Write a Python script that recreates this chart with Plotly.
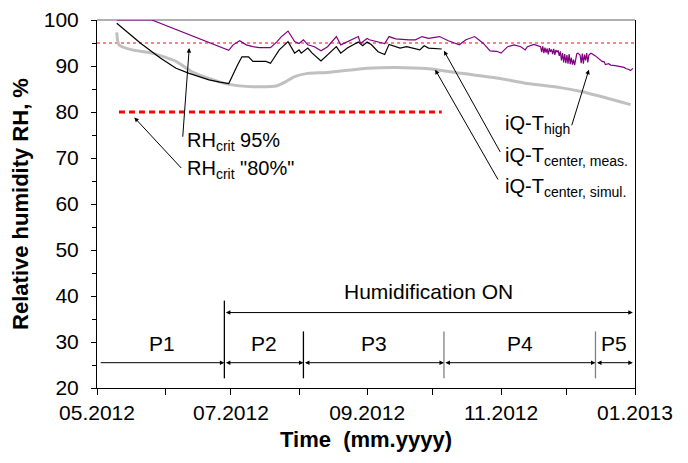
import plotly.graph_objects as go
import pandas as pd

# ---------------- data ----------------
high_dates = [
    "2012-05-10", "2012-05-26", "2012-06-30", "2012-07-02", "2012-07-05", "2012-07-08",
    "2012-07-11", "2012-07-14", "2012-07-19", "2012-07-22", "2012-07-24", "2012-07-27",
    "2012-07-30", "2012-08-01", "2012-08-03", "2012-08-05", "2012-08-08", "2012-08-11",
    "2012-08-14", "2012-08-18", "2012-08-20", "2012-08-23", "2012-08-28", "2012-08-29",
    "2012-09-01", "2012-09-02", "2012-09-06", "2012-09-09", "2012-09-11", "2012-09-14",
    "2012-09-20", "2012-09-23", "2012-09-26", "2012-09-29", "2012-10-04", "2012-10-08",
    "2012-10-13", "2012-10-16", "2012-10-20", "2012-10-24", "2012-10-27", "2012-10-30",
    "2012-11-01", "2012-11-04", "2012-11-07", "2012-11-10", "2012-11-12", "2012-11-13",
    "2012-11-16", "2012-11-19 00:00", "2012-11-19 12:00", "2012-11-20 00:00",
    "2012-11-20 12:00", "2012-11-21 00:00", "2012-11-21 12:00", "2012-11-22 00:00",
    "2012-11-22 12:00", "2012-11-23 00:00", "2012-11-23 12:00", "2012-11-24 00:00",
    "2012-11-24 12:00", "2012-11-25 00:00", "2012-11-25 12:00", "2012-11-26 00:00",
    "2012-11-26 12:00", "2012-11-27 00:00", "2012-11-27 12:00", "2012-11-28 00:00",
    "2012-11-28 12:00", "2012-11-29 00:00", "2012-11-29 12:00", "2012-11-30 00:00",
    "2012-11-30 12:00", "2012-12-01 00:00", "2012-12-01 12:00", "2012-12-02 00:00",
    "2012-12-02 12:00", "2012-12-03 00:00", "2012-12-03 12:00", "2012-12-04 00:00",
    "2012-12-04 12:00", "2012-12-05 00:00", "2012-12-05 12:00", "2012-12-06 00:00",
    "2012-12-06 12:00", "2012-12-07 00:00", "2012-12-07 12:00", "2012-12-08 00:00",
    "2012-12-08 12:00", "2012-12-09 00:00", "2012-12-09 12:00", "2012-12-10 00:00",
    "2012-12-10 12:00", "2012-12-11 00:00", "2012-12-11 12:00", "2012-12-12 00:00",
    "2012-12-14", "2012-12-16", "2012-12-17", "2012-12-18", "2012-12-18 12:00",
    "2012-12-20", "2012-12-21", "2012-12-23", "2012-12-25", "2012-12-27", "2012-12-28",
    "2012-12-29", "2012-12-30", "2012-12-31",
]
high_rh = [
    100.0, 100.0, 93.4, 94.6, 95.5, 94.6,
    94.2, 94.0, 94.0, 95.3, 96.4, 97.6,
    95.3, 94.9, 95.7, 94.6, 94.2, 93.3,
    94.2, 96.4, 94.6, 95.3, 96.4, 94.9,
    96.0, 95.7, 95.3, 94.9, 96.4, 95.9,
    95.7, 95.7, 96.4, 96.0, 96.4, 95.5,
    94.6, 95.7, 96.4, 94.9, 93.3, 93.2,
    92.8, 94.2, 94.6, 94.2, 93.5, 94.2,
    94.7, 94.2, 93.0, 94.3,
    92.8, 94.0, 92.9, 93.8,
    92.5, 93.9, 93.1, 93.6,
    92.6, 93.7, 92.4, 93.5,
    93.0, 93.4, 92.2, 93.2,
    91.2, 92.8, 90.8, 92.6,
    90.6, 92.4, 90.5, 92.6,
    90.4, 91.8, 90.3, 91.4,
    90.2, 91.6, 92.7, 92.8,
    92.6, 92.4, 90.6, 92.7,
    90.5, 92.5, 91.2, 92.8,
    90.8, 92.4, 92.6, 92.8,
    92.2, 91.4, 91.0, 90.9, 90.3,
    90.5, 90.2, 90.1, 89.9, 89.7, 89.4,
    89.3, 89.0, 89.5,
]

meas_dates = [
    "2012-05-10", "2012-05-21", "2012-05-30", "2012-06-06", "2012-06-12", "2012-06-21",
    "2012-06-26", "2012-06-30", "2012-07-04", "2012-07-06", "2012-07-09", "2012-07-11",
    "2012-07-17", "2012-07-19", "2012-07-20", "2012-07-23", "2012-07-27", "2012-07-30",
    "2012-08-01", "2012-08-02", "2012-08-05", "2012-08-07", "2012-08-11", "2012-08-14",
    "2012-08-18", "2012-08-20", "2012-08-23", "2012-08-28", "2012-08-30", "2012-09-01",
    "2012-09-03", "2012-09-06", "2012-09-09", "2012-09-11", "2012-09-14", "2012-09-16",
    "2012-09-19", "2012-09-22", "2012-09-25", "2012-09-27", "2012-09-29", "2012-10-05",
]
meas_rh = [
    99.3, 94.9, 91.7, 89.5, 88.4, 87.0,
    86.5, 86.2, 90.2, 92.0, 92.0, 91.0,
    91.0, 90.6, 91.3, 93.5, 95.3, 92.8,
    93.5, 92.8, 93.9, 92.8, 91.1, 92.4,
    94.2, 92.8, 93.9, 95.2, 94.4, 95.2,
    94.6, 93.1, 92.5, 94.7, 94.2, 93.9,
    94.2, 93.9, 93.5, 94.4, 93.9, 93.7,
]

simul_dates = [
    "2012-05-10", "2012-05-11", "2012-05-17", "2012-05-26", "2012-06-06", "2012-06-13",
    "2012-06-21", "2012-06-30", "2012-07-11", "2012-07-22", "2012-07-26", "2012-07-30",
    "2012-08-05", "2012-08-14", "2012-09-01", "2012-09-14", "2012-09-29", "2012-10-14",
    "2012-10-30", "2012-11-13", "2012-11-28", "2012-12-08", "2012-12-30",
]
simul_rh = [
    97.3, 94.6, 93.5, 92.8, 91.0, 88.8,
    87.3, 86.0, 85.5, 85.7, 86.6, 87.7,
    88.4, 88.6, 89.5, 89.7, 89.4, 88.4,
    87.4, 86.2, 85.3, 84.4, 81.6,
]

RH_CRIT_HIGH = 95
RH_CRIT_LOW = 80
crit_high_span = ["2012-05-01", "2013-01-01"]
crit_low_span = ["2012-05-11", "2012-10-05"]

period_bounds = ["2012-05-02", "2012-06-28", "2012-08-03", "2012-10-06", "2012-12-14", "2012-12-31"]
period_labels = ["P1", "P2", "P3", "P4", "P5"]
humid_span = ["2012-06-28", "2012-12-31"]
humid_label = "Humidification ON"

# ---------------- styles ----------------
FONT = "Arial, 'Liberation Sans', sans-serif"
C_HIGH = "#800080"
C_MEAS = "#000000"
C_SIM = "#c0c0c0"
bound_colors = ["#000000", "#000000", "#808080", "#808080"]
bound_tops = [39.0, 32.3, 32.3, 32.3]

fig = go.Figure()
fig.add_trace(go.Scatter(x=crit_high_span, y=[RH_CRIT_HIGH] * 2, mode="lines",
                         line=dict(color="#ff5a5a", width=1.3, dash="3px,3px")))
fig.add_trace(go.Scatter(x=crit_low_span, y=[RH_CRIT_LOW] * 2, mode="lines",
                         line=dict(color="#ff0000", width=3, dash="6px,4px")))
fig.add_trace(go.Scatter(x=simul_dates, y=simul_rh, mode="lines",
                         line=dict(color=C_SIM, width=3, shape="spline", smoothing=0.6)))
fig.add_trace(go.Scatter(x=meas_dates, y=meas_rh, mode="lines",
                         line=dict(color=C_MEAS, width=1.2)))
fig.add_trace(go.Scatter(x=high_dates, y=high_rh, mode="lines", cliponaxis=False,
                         line=dict(color=C_HIGH, width=1.2)))

shapes = []
for b, col, top in zip(period_bounds[1:-1], bound_colors, bound_tops):
    shapes.append(dict(type="line", xref="x", yref="y", x0=b, x1=b, y0=22.1, y1=top,
                       line=dict(color=col, width=1.3)))
shapes.append(dict(type="line", xref="paper", yref="paper", x0=0, x1=1, y0=1, y1=1,
                   line=dict(color="#606060", width=1), layer="below"))

ann = []
P_Y = 25.5
LABEL_Y = 29.6
b_dt = pd.to_datetime(period_bounds)
for i, lab in enumerate(period_labels):
    ann.append(dict(x=period_bounds[i + 1], y=P_Y, ax=period_bounds[i], ay=P_Y,
                    xref="x", yref="y", axref="x", ayref="y", text="", showarrow=True,
                    arrowhead=2, arrowsize=0.9, arrowwidth=1, arrowcolor="black",
                    arrowside="end" if i == 0 else "end+start", startarrowhead=2,
                    startarrowsize=0.9))
    mid = b_dt[i] + (b_dt[i + 1] - b_dt[i]) / 2
    ann.append(dict(x=mid.strftime("%Y-%m-%d %H:%M"), y=LABEL_Y, xref="x", yref="y",
                    text=lab, showarrow=False, font=dict(size=21, family=FONT, color="black")))

ann.append(dict(x=humid_span[1], y=36.4, ax=humid_span[0], ay=36.4, xref="x", yref="y",
                axref="x", ayref="y", text="", showarrow=True, arrowhead=2, arrowsize=0.9,
                arrowwidth=1, arrowcolor="black", arrowside="end+start", startarrowhead=2,
                startarrowsize=0.9))
ann.append(dict(x="2012-09-29", y=41.0, xref="x", yref="y", text=humid_label, showarrow=False,
                font=dict(size=21, family=FONT, color="black")))

TF = dict(size=20, family=FONT, color="black")
texts = [
    ("RH<sub>crit</sub> 95%", "2012-06-10", 73.6),
    ("RH<sub>crit</sub> \"80%\"", "2012-06-10", 67.5),
    ("iQ-T<sub>high</sub>", "2012-11-02", 77.3),
    ("iQ-T<sub>center, meas.</sub>", "2012-11-02", 70.4),
    ("iQ-T<sub>center, simul.</sub>", "2012-11-02", 63.6),
]
for t, x, y in texts:
    ann.append(dict(x=x, y=y, xref="x", yref="y", text=t, showarrow=False,
                    xanchor="left", yanchor="middle", font=TF))

arrows = [
    ("2012-06-12", 93.9, "2012-06-09", 74.3),
    ("2012-05-18", 78.8, "2012-06-09", 67.5),
    ("2012-12-11", 89.2, "2012-12-03", 76.8),
    ("2012-10-06", 93.3, "2012-11-01", 71.0),
    ("2012-10-02", 89.2, "2012-10-31", 65.0),
]
for hx, hy, tx, ty in arrows:
    ann.append(dict(x=hx, y=hy, ax=tx, ay=ty, xref="x", yref="y", axref="x", ayref="y",
                    text="", showarrow=True, arrowhead=2, arrowsize=0.9, arrowwidth=1,
                    arrowcolor="black"))

# page body has an 8px default margin, so the figure is sized / offset to compensate
fig.update_layout(
    width=672, height=447,
    margin=dict(l=89, r=45, t=12, b=67, autoexpand=False),
    paper_bgcolor="white", plot_bgcolor="white",
    showlegend=False,
    font=dict(family=FONT, size=21, color="black"),
    shapes=shapes, annotations=ann,
    xaxis=dict(
        type="date", range=["2012-05-01", "2013-01-01"], tick0="2012-05-01", dtick="M2",
        tickformat="%m.%Y", ticks="outside", ticklen=6, tickcolor="black",
        showline=True, linecolor="black", linewidth=1, showgrid=False, zeroline=False,
        automargin=False, ticklabeloverflow="allow",
        minor=dict(dtick="M1", ticks="outside", ticklen=6, tickcolor="black", showgrid=False),
        title=dict(text="<b>Time\u00a0 (mm.yyyy)</b>", font=dict(size=22, family=FONT), standoff=8),
        tickfont=dict(size=21, family=FONT), ticklabelstandoff=0,
    ),
    yaxis=dict(
        range=[20, 100], dtick=10, ticks="outside", ticklen=5, tickcolor="black",
        showline=True, linecolor="black", linewidth=1, mirror=True, showgrid=False,
        zeroline=False, automargin=False, ticklabeloverflow="allow",
        minor=dict(dtick=5, ticks="outside", ticklen=4, tickcolor="black", showgrid=False),
        title=dict(text="<b>Relative humidity RH, %</b>", font=dict(size=22, family=FONT), standoff=10),
        tickfont=dict(size=21, family=FONT), ticklabelstandoff=8,
    ),
)

fig.write_html("out.html")
